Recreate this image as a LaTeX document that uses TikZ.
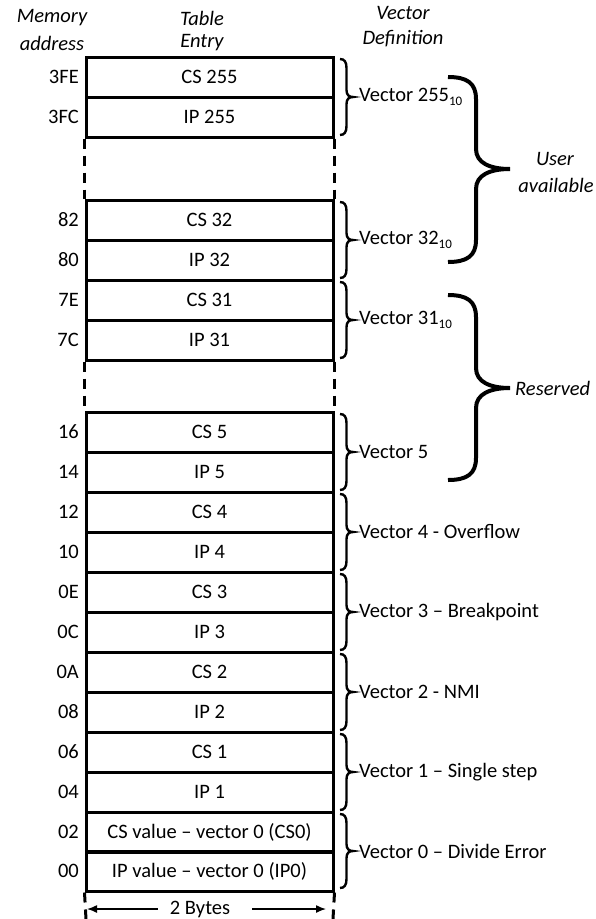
\documentclass[tikz,border=0pt]{standalone}
\usepackage{fontspec}
\setmainfont{Carlito}
\usetikzlibrary{arrows.meta}
\newcommand\sbr[3]{% top, middle, bottom
  \draw[sbrace] (340,#1) .. controls (344.5,#1) and (346.5,#1+3) .. (346.5,#1+9)
    -- (346.5,#2-7) .. controls (346.5,#2-2) and (349,#2) .. (353,#2)
    .. controls (349,#2) and (346.5,#2+2) .. (346.5,#2+7)
    -- (346.5,#3-9) .. controls (346.5,#3-3) and (344.5,#3) .. (340,#3);}
\newcommand\bbr[3]{% top, middle, bottom
  \draw[bbrace] (448,#1) .. controls (467,#1) and (476,#1+6) .. (476,#1+22)
    -- (476,#2-20) .. controls (476,#2-6) and (490,#2) .. (510,#2)
    .. controls (490,#2) and (476,#2+6) .. (476,#2+20)
    -- (476,#3-22) .. controls (476,#3-6) and (467,#3) .. (448,#3);}
\newcommand\sub[1]{\raisebox{-4pt}{\fontsize{13}{13}\selectfont #1}}
\begin{document}
\begin{tikzpicture}[x=1pt,y=-1pt,
  txt/.style={font=\fontsize{20.5}{24}\selectfont, inner sep=0pt},
  hdr/.style={font=\fontsize{20.5}{24}\selectfont\itshape, inner sep=0pt},
  row/.style={txt, draw, line width=3pt, minimum width=247pt, minimum height=40pt},
  addr/.style={txt, anchor=east},
  vec/.style={txt, anchor=west},
  gap/.style={line width=3pt, dash pattern=on 10pt off 7pt},
  sbrace/.style={line width=2.4pt},
  bbrace/.style={line width=4pt},
  bytearrow/.style={line width=1.4pt, -{Latex[length=10pt,width=8pt]}},
]
\useasboundingbox (0,0) rectangle (595,919);

% headers
\node[hdr] (h1a) at (52,18) {Memory};
\node[hdr] (h1b) at (52,43) {address};
\node[hdr] (h2a) at (202,18) {Table};
\node[hdr] (h2b) at (202,43) {Entry};
\node[hdr] (h3a) at (403,13) {Vector};
\node[hdr] (h3b) at (403,39) {Definition};

% table rows
\node[row] (cs255) at (209.5,77)  {CS 255};
\node[row] (ip255) at (209.5,117) {IP 255};
\node[row] (cs32)  at (209.5,220) {CS 32};
\node[row] (ip32)  at (209.5,260) {IP 32};
\node[row] (cs31)  at (209.5,300) {CS 31};
\node[row] (ip31)  at (209.5,340) {IP 31};
\node[row] (cs5)   at (209.5,432) {CS 5};
\node[row] (ip5)   at (209.5,472) {IP 5};
\node[row] (cs4)   at (209.5,512) {CS 4};
\node[row] (ip4)   at (209.5,552) {IP 4};
\node[row] (cs3)   at (209.5,592) {CS 3};
\node[row] (ip3)   at (209.5,632) {IP 3};
\node[row] (cs2)   at (209.5,672) {CS 2};
\node[row] (ip2)   at (209.5,712) {IP 2};
\node[row] (cs1)   at (209.5,752) {CS 1};
\node[row] (ip1)   at (209.5,792) {IP 1};
\node[row] (cs0)   at (209.5,832) {CS value -- vector 0 (CS0)};
\node[row] (ip0)   at (209.5,871) {IP value -- vector 0 (IP0)};

% addresses
\node[addr] (a3fe) at (79,77)  {3FE};
\node[addr] (a3fc) at (79,117) {3FC};
\node[addr] (a82)  at (79,220) {82};
\node[addr] (a80)  at (79,260) {80};
\node[addr] (a7e)  at (79,300) {7E};
\node[addr] (a7c)  at (79,340) {7C};
\node[addr] (a16)  at (79,432) {16};
\node[addr] (a14)  at (79,472) {14};
\node[addr] (a12)  at (79,512) {12};
\node[addr] (a10)  at (79,552) {10};
\node[addr] (a0e)  at (79,592) {0E};
\node[addr] (a0c)  at (79,632) {0C};
\node[addr] (a0a)  at (79,672) {0A};
\node[addr] (a08)  at (79,712) {08};
\node[addr] (a06)  at (79,752) {06};
\node[addr] (a04)  at (79,792) {04};
\node[addr] (a02)  at (79,832) {02};
\node[addr] (a00)  at (79,871) {00};

% dashed gaps
\draw[gap] (ip255.south west) -- (cs32.north west);
\draw[gap] (ip255.south east) -- (cs32.north east);
\draw[gap] (ip31.south west) -- (cs5.north west);
\draw[gap] (ip31.south east) -- (cs5.north east);
\coordinate (bl) at (86,919);
\coordinate (br) at (333,919);
\draw[gap] (ip0.south west) -- (bl);
\draw[gap] (ip0.south east) -- (br);

% small braces
\sbr{59}{97}{135}
\sbr{202}{240}{278}
\sbr{282}{320}{358}
\sbr{414}{452}{490}
\sbr{494}{532}{570}
\sbr{574}{612}{650}
\sbr{654}{692}{730}
\sbr{734}{772}{810}
\sbr{814}{851}{888}

% vector labels
\node[vec] (v255) at (359,97)  {Vector 255\sub{10}};
\node[vec] (v32)  at (359,240) {Vector 32\sub{10}};
\node[vec] (v31)  at (359,320) {Vector 31\sub{10}};
\node[vec] (v5)   at (359,452) {Vector 5};
\node[vec] (v4)   at (359,532) {Vector 4 - Overflow};
\node[vec] (v3)   at (359,612) {Vector 3 -- Breakpoint};
\node[vec] (v2)   at (359,692) {Vector 2 - NMI};
\node[vec] (v1)   at (359,772) {Vector 1 -- Single step};
\node[vec] (v0)   at (359,851) {Vector 0 -- Divide Error};

% big braces
\bbr{77}{169}{262}
\bbr{295}{388}{480}
\node[hdr] (ua1) at (555,159) {User};
\node[hdr] (ua2) at (556,185) {available};
\node[hdr, anchor=west] (res) at (515,388) {Reserved};

% 2 bytes
\node[txt, inner xsep=12pt] (bytes) at (200,909) {2 Bytes};
\coordinate (lb) at (87,909);
\coordinate (rb) at (326,909);
\draw[bytearrow] (bytes.west) -- (lb);
\draw[bytearrow] ([xshift=10pt]bytes.east) -- (rb);
\end{tikzpicture}
\end{document}
